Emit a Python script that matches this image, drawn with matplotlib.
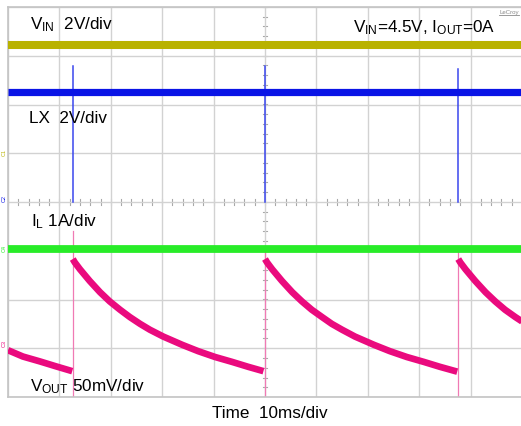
import matplotlib
matplotlib.use('Agg')
import matplotlib.pyplot as plt
import numpy as np

plt.rcParams['font.family'] = ['Liberation Sans', 'DejaVu Sans']
plt.rcParams['mathtext.fontset'] = 'custom'
plt.rcParams['mathtext.rm'] = 'Liberation Sans'
plt.rcParams['mathtext.it'] = 'Liberation Sans:italic'
plt.rcParams['mathtext.bf'] = 'Liberation Sans:bold'
plt.rcParams['mathtext.default'] = 'regular'

W, H = 521, 427

# ---- data (time in ms, trace levels in screen divisions) ----
spike_times = [12.6, 50.0, 87.6]
vin_level = 3.22
lx_level = 2.26
lx_spike_top = [2.79, 2.80, 2.73]
il_level = -0.96
vout_marker_top = [-0.6, -1.0, -1.0]

vout_seg0_t = [0.0, 2.9, 6.2, 9.3, 12.5]
vout_seg0_v = [-3.04, -3.17, -3.27, -3.37, -3.47]
vout_seg1_t = [12.6, 13.0, 14.0, 15.9, 17.9, 19.8, 21.8, 23.7, 25.7, 27.6,
               30.2, 33.9, 37.0, 40.3, 43.6, 46.7, 49.7]
vout_seg1_v = [-1.17, -1.24, -1.38, -1.62, -1.85, -2.04, -2.21, -2.36, -2.50, -2.62,
               -2.76, -2.93, -3.06, -3.18, -3.28, -3.38, -3.47]
vout_seg2_t = [50.0, 50.4, 51.4, 53.3, 55.3, 57.2, 59.1, 61.1, 63.0, 65.0,
               67.5, 71.2, 74.3, 77.6, 80.9, 84.0, 87.4]
vout_seg2_v = [-1.17, -1.24, -1.38, -1.62, -1.85, -2.04, -2.21, -2.36, -2.50, -2.62,
               -2.76, -2.93, -3.06, -3.18, -3.28, -3.38, -3.48]
vout_seg3_t = [87.6, 88.0, 89.0, 90.9, 92.9, 94.8, 96.7, 98.7, 100.0]
vout_seg3_v = [-1.17, -1.24, -1.38, -1.62, -1.85, -2.04, -2.21, -2.36, -2.45]

x_grid = list(range(0, 101, 10))
y_grid = list(range(-4, 5))

C_VIN = '#b9b200'
C_LX = '#0a14e6'
C_IL = '#28ec28'
C_VOUT = '#ea0a7e'

fig = plt.figure(figsize=(W / 100, H / 100), dpi=100)
fig.patch.set_facecolor('white')
ax = fig.add_axes([8 / W, (H - 398) / H, 514 / W, 390 / H])
ax.set_xlim(0, 100)
ax.set_ylim(-4, 4)
ax.set_xticks(x_grid)
ax.set_yticks(y_grid)
ax.grid(True, color='#d2d2d2', lw=1.0)
ax.tick_params(length=0, labelbottom=False, labelleft=False)
for sp in ax.spines.values():
    sp.set_color('#c4c4c4')
    sp.set_linewidth(1.2)

# centre cross minor ticks
for x in np.arange(0, 100.01, 2):
    ax.plot([x, x], [-0.07, 0.07], color='#a8a8a8', lw=0.8, zorder=1)
for y in np.arange(-4, 4.01, 0.2):
    ax.plot([49.6, 50.4], [y, y], color='#a8a8a8', lw=0.8, zorder=1)

# VIN
ax.plot([0, 100], [vin_level, vin_level], color=C_VIN, lw=5.8, solid_capstyle='butt', zorder=3)
# LX
for t, top in zip(spike_times, lx_spike_top):
    ax.plot([t, t], [0, top], color='#3a46ee', lw=1.1, zorder=3)
ax.plot([0, 100], [lx_level, lx_level], color=C_LX, lw=5.2, solid_capstyle='butt', zorder=4)
# IL
ax.plot([0, 100], [il_level, il_level], color=C_IL, lw=5.6, solid_capstyle='butt', zorder=4)
# VOUT
for t, top in zip(spike_times, vout_marker_top):
    ax.plot([t, t], [-4, top], color='#f07ab4', lw=0.9, zorder=2)
for ts, vs in [(vout_seg0_t, vout_seg0_v), (vout_seg1_t, vout_seg1_v),
               (vout_seg2_t, vout_seg2_v), (vout_seg3_t, vout_seg3_v)]:
    ax.plot(ts, vs, color=C_VOUT, lw=4.8, solid_capstyle='butt', solid_joinstyle='round', zorder=5)


def px(x, y):
    return x / W, 1 - y / H


fs = 12.3
fig.text(*px(30, 29), r'$V_{IN}$  2V/div', fontsize=fs, va='baseline', ha='left')
fig.text(*px(29, 123), 'LX  2V/div', fontsize=fs, va='baseline', ha='left')
fig.text(*px(31, 226), r'$I_{L}$ 1A/div', fontsize=fs, va='baseline', ha='left')
fig.text(*px(30, 391), r'$V_{OUT}$ 50mV/div', fontsize=fs, va='baseline', ha='left')
fig.text(*px(353, 32), r'$V_{IN}$=4.5V, $I_{OUT}$=0A', fontsize=fs, va='baseline', ha='left')
fig.text(*px(212, 418), 'Time  10ms/div', fontsize=fs, va='baseline', ha='left')
fig.text(*px(499, 14), 'LeCroy', fontsize=4.4, color='#8a8a8a', va='baseline', ha='left')
fig.add_artist(plt.Line2D([499 / W, 519 / W], [1 - 15.5 / H, 1 - 15.5 / H], color='#8a8a8a', lw=0.6))

# channel markers
for y, lab, c in [(153, 'C1', C_VIN), (199, 'C2', C_LX), (248, 'C4', C_IL), (344, 'C3', C_VOUT)]:
    fig.text(*px(4, y), lab, fontsize=4, rotation=90, color=c, va='center', ha='center')

fig.savefig('out.png', dpi=100, facecolor='white')
